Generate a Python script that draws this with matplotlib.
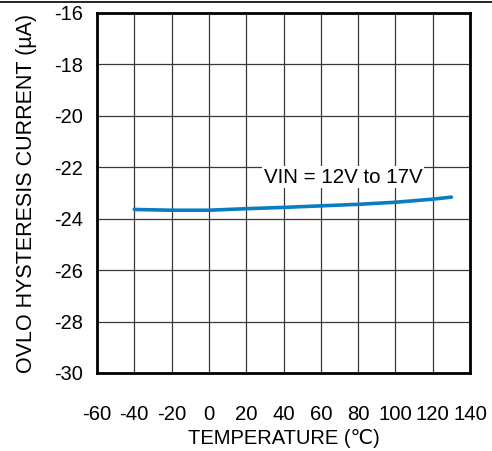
import matplotlib.pyplot as plt
from matplotlib.lines import Line2D

plt.rcParams['font.family'] = ['Liberation Sans', 'DejaVu Sans']

temperature = [-40, -20, 0, 20, 40, 60, 80, 100, 120, 130]
current = [-23.64, -23.67, -23.67, -23.61, -23.56, -23.50, -23.44, -23.36, -23.24, -23.16]

x_ticks = [-60, -40, -20, 0, 20, 40, 60, 80, 100, 120, 140]
y_ticks = [-30, -28, -26, -24, -22, -20, -18, -16]

fig = plt.figure(figsize=(4.92, 4.51), dpi=100)
ax = fig.add_axes([97 / 492, 1 - 373 / 451, 373 / 492, 360 / 451])

ax.plot(temperature, current, color='#0a7dc2', linewidth=2.6, solid_capstyle='round', zorder=3)

ax.set_xlim(-60, 140)
ax.set_ylim(-30, -16)
ax.set_xticks(x_ticks)
ax.set_yticks(y_ticks)
ax.set_xticklabels([str(t) for t in x_ticks], fontsize=14.6)
ax.set_yticklabels([str(t) for t in y_ticks], fontsize=14.4)
ax.tick_params(axis='y', length=0, pad=10)
ax.tick_params(axis='x', length=0, pad=23)
ax.grid(True, color='#383838', linewidth=0.9)
ax.set_axisbelow(True)
for s in ax.spines.values():
    s.set_linewidth(2)
    s.set_color('black')

ax.set_xlabel('TEMPERATURE (\u2103)', fontsize=14.5, labelpad=4)
ax.set_ylabel('OVLO HYSTERESIS CURRENT (\u00b5A)', fontsize=15.5, labelpad=12)

ax.text(72, -22.38, 'VIN = 12V to 17V', fontsize=14.8, ha='center', va='center',
        bbox=dict(facecolor='white', edgecolor='none', pad=1), zorder=4)

fig.add_artist(Line2D([0, 1], [1 - 1.5 / 451, 1 - 1.5 / 451], color='black', linewidth=1.2,
                      transform=fig.transFigure))

fig.savefig('out.png', dpi=100)
